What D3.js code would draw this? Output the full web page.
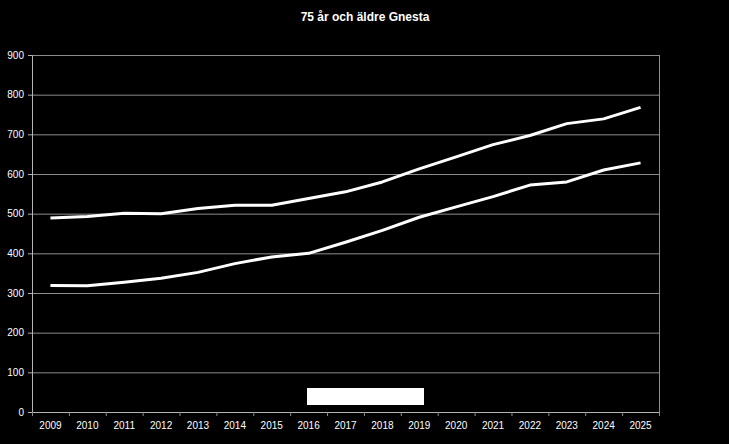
<!DOCTYPE html>
<html lang="sv">
<head>
    <meta charset="UTF-8">
    <title>75 år och äldre Gnesta</title>
    <script src="https://d3js.org/d3.v7.min.js"></script>
    <style>
        body { margin: 0; background: #000; }
        text { font-family: "Liberation Sans", Arial, sans-serif; }
    </style>
</head>
<body>
    <svg width="729" height="444"></svg>

    <script>
        // Data
        const years = ["2009", "2010", "2011", "2012", "2013", "2014", "2015", "2016", "2017",
                       "2018", "2019", "2020", "2021", "2022", "2023", "2024", "2025"];
        const seriesUpper = [489, 493, 501, 500, 513, 521, 521, 538, 555, 580, 613, 643, 674, 697, 727, 739, 768];
        const seriesLower = [319, 318, 327, 337, 352, 374, 391, 400, 428, 458, 491, 517, 543, 572, 580, 610, 628];
        const yTicks = [0, 100, 200, 300, 400, 500, 600, 700, 800, 900];
        const title = "75 år och äldre Gnesta";

        const svg = d3.select("svg");
        svg.append("rect").attr("width", 729).attr("height", 444).attr("fill", "#000");

        const margin = { top: 55, left: 32, right: 70, bottom: 32 };
        const width = 729 - margin.left - margin.right,   // 627
              height = 444 - margin.top - margin.bottom;  // 357

        const g = svg.append("g").attr("transform", `translate(${margin.left},${margin.top})`);

        const x = d3.scaleBand().domain(years).range([0, width]);
        const y = d3.scaleLinear().domain([0, 900]).range([height, 0]);

        // gridlines
        g.selectAll(".grid")
            .data(yTicks)
            .join("line")
            .attr("x1", 0).attr("x2", width)
            .attr("y1", d => y(d) + 0.5).attr("y2", d => y(d) + 0.5)
            .attr("stroke", "#8c8c8c")
            .attr("stroke-width", 1);

        // plot border
        g.append("rect")
            .attr("x", 0.5).attr("y", 0.5)
            .attr("width", width).attr("height", height)
            .attr("fill", "none")
            .attr("stroke", "#8c8c8c");

        // y axis
        const yAxis = g.append("g")
            .call(d3.axisLeft(y).tickValues(yTicks).tickSize(4).tickPadding(4));
        // x axis, ticks at category boundaries
        const xAxis = g.append("g")
            .attr("transform", `translate(0,${height})`)
            .call(d3.axisBottom(x).tickSize(0).tickPadding(10));
        xAxis.selectAll(".tickmark")
            .data(d3.range(years.length + 1))
            .join("line")
            .attr("class", "tickmark")
            .attr("x1", i => i * x.step() + 0.5).attr("x2", i => i * x.step() + 0.5)
            .attr("y1", 0).attr("y2", 4)
            .attr("stroke", "#8c8c8c");

        [yAxis, xAxis].forEach(a => {
            a.select(".domain").attr("stroke", "#b4b4b4");
            a.selectAll(".tick line").attr("stroke", "#b4b4b4");
            a.selectAll("text")
                .attr("fill", "#ffffff")
                .style("font-size", "10px")
                .style("font-family", "'Liberation Sans', Arial, sans-serif");
        });

        // lines
        const line = d3.line()
            .x((d, i) => x(years[i]) + x.bandwidth() / 2)
            .y(d => y(d));

        [seriesUpper, seriesLower].forEach(s => {
            g.append("path")
                .datum(s)
                .attr("fill", "none")
                .attr("stroke", "#ffffff")
                .attr("stroke-width", 3)
                .attr("stroke-linejoin", "round")
                .attr("d", line);
        });

        // legend box (blank)
        svg.append("rect")
            .attr("x", 307).attr("y", 388)
            .attr("width", 117).attr("height", 17)
            .attr("fill", "#ffffff");

        // title
        svg.append("text")
            .attr("x", 365).attr("y", 21)
            .attr("text-anchor", "middle")
            .attr("fill", "#ffffff")
            .style("font-size", "12px")
            .style("font-weight", "bold")
            .text(title);
    </script>
</body>
</html>
